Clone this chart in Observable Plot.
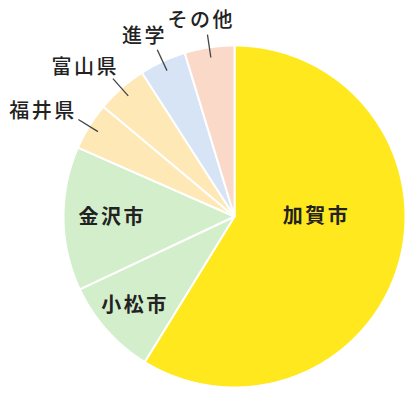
<!DOCTYPE html>
<html><head><meta charset="utf-8">
<script src="https://cdn.jsdelivr.net/npm/d3@7"></script>
<script src="https://cdn.jsdelivr.net/npm/@observablehq/plot@0.6"></script>
<style>body{margin:0;background:#fff}</style>
</head><body><div id="chart"></div>
<script>
// ---- data ----
const categories = ["加賀市","小松市","金沢市","福井県","富山県","進学","その他"];
const shares = [58.8, 9.2, 13.6, 4.5, 4.8, 4.4, 4.7];
const colors = ["#FFE81E","#D3EECA","#D3EECA","#FEE8B6","#FEE8B6","#D6E4F5","#FAD9C9"];
const insideLabels = ["加賀市","小松市","金沢市"];
const outsideLabels = ["福井県","富山県","進学","その他"];

// ---- layout ----
const W = 420, H = 400, cx = 234, cy = 216, R = 171;
const insideRadius = {"加賀市":0.48, "小松市":0.78, "金沢市":0.715};
const insideTurn = {"加賀市":-16, "小松市":0, "金沢市":0}; // degrees
const fontFamily = "'Noto Sans CJK JP', 'Noto Sans', sans-serif";

const pie = d3.pie().sort(null).value(d => d.v)(categories.map((c,i)=>({c, v: shares[i]})));
const px = (a, r) => cx + r * Math.sin(a);
const py = (a, r) => cy - r * Math.cos(a);

const slicePts = [];
for (const s of pie) {
  slicePts.push({cat: s.data.c, x: cx, y: cy});
  const n = Math.max(4, Math.ceil((s.endAngle - s.startAngle) / (Math.PI/360)));
  for (let k = 0; k <= n; k++) {
    const a = s.startAngle + (s.endAngle - s.startAngle) * k / n;
    slicePts.push({cat: s.data.c, x: px(a, R), y: py(a, R)});
  }
}

const mid = s => (s.startAngle + s.endAngle) / 2;
const inside = pie.filter(s => insideLabels.includes(s.data.c)).map(s => {
  const a = mid(s) + insideTurn[s.data.c] * Math.PI/180;
  const r = R * insideRadius[s.data.c];
  return {text: s.data.c, x: px(a, r), y: py(a, r)};
});

const outside = pie.filter(s => outsideLabels.includes(s.data.c)).map(s => {
  const a = mid(s);
  const x2 = px(a, R*0.94), y2 = py(a, R*0.94);
  const x1 = px(a, R*1.075), y1 = py(a, R*1.075);
  const halfW = s.data.c.length * 22.5 / 2;
  return {text: s.data.c, x1, y1, x2, y2,
    tx: x1 + Math.sin(a) * (halfW + 8),
    ty: y1 - Math.cos(a) * 12 - 2};
});

const chart = Plot.plot({
  width: W, height: H, margin: 0,
  style: {fontFamily, letterSpacing: "2.5px", background: "#fff"},
  x: {domain: [0, W], range: [0, W], axis: null},
  y: {domain: [0, H], range: [0, H], axis: null},
  color: {domain: categories, range: colors},
  marks: [
    Plot.line(slicePts, {x: "x", y: "y", z: "cat", fill: "cat", stroke: "white", strokeWidth: 2, strokeLinejoin: "round", curve: "linear-closed"}),
    Plot.link(outside, {x1: "x1", y1: "y1", x2: "x2", y2: "y2", stroke: "#444", strokeWidth: 1.3}),
    Plot.text(inside, {x: "x", y: "y", text: "text", fontSize: 20, fontWeight: 700, fill: "#222"}),
    Plot.text(outside, {x: "tx", y: "ty", text: "text", fontSize: 20, fontWeight: 500, fill: "#222"})
  ]
});
document.getElementById("chart").append(chart);
</script>
</body></html>
